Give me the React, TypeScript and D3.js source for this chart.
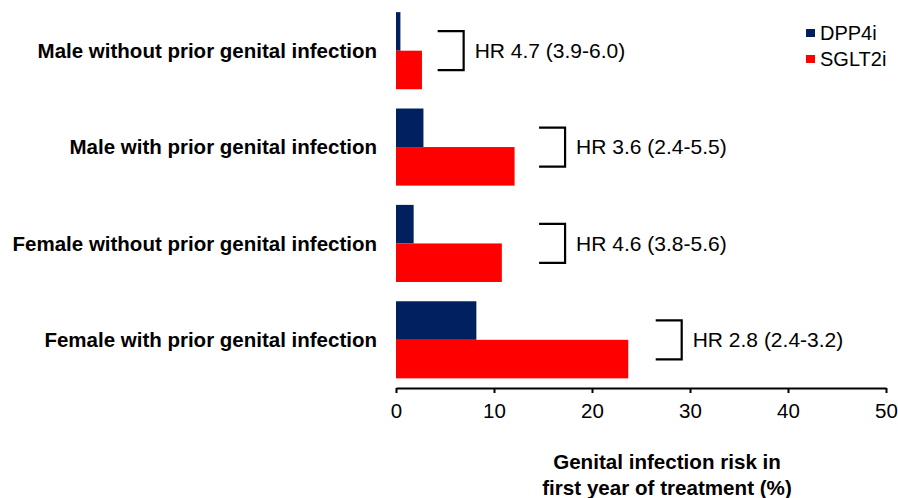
import React, { useEffect, useRef } from 'react';
import * as d3 from 'd3';

const categories = [
  'Male without prior genital infection',
  'Male with prior genital infection',
  'Female without prior genital infection',
  'Female with prior genital infection',
];
const seriesNames = ['DPP4i', 'SGLT2i'];
const dpp4i = [0.45, 2.8, 1.8, 8.2];
const sglt2i = [2.65, 12.1, 10.8, 23.7];
const hrLabels = [
  'HR 4.7 (3.9-6.0)',
  'HR 3.6 (2.4-5.5)',
  'HR 4.6 (3.8-5.6)',
  'HR 2.8 (2.4-3.2)',
];
// where each bracket sits, in % units
const bracketAt = [4.25, 14.6, 14.6, 26.5];
const xTicks = [0, 10, 20, 30, 40, 50];
const axisTitle = ['Genital infection risk in', 'first year of treatment (%)'];

const colors = ['#002060', '#ff0000'];

export default function App() {
  const svgRef = useRef<SVGSVGElement>(null);

  useEffect(() => {
    const width = 898;
    const height = 498;
    const font = 'Arial, "Liberation Sans", sans-serif';

    d3.select(svgRef.current).selectAll('*').remove();
    const svg = d3.select(svgRef.current)
      .attr('width', width)
      .attr('height', height)
      .style('font-family', font);

    const x = d3.scaleLinear().domain([0, 50]).range([396, 886]);
    const y = d3.scaleBand().domain(categories).range([2.5, 388]).paddingInner(0.2).paddingOuter(0.1);
    const ySub = d3.scaleBand().domain(seriesNames).range([0, y.bandwidth()]);

    const values = [dpp4i, sglt2i];

    // bars
    seriesNames.forEach((s, si) => {
      svg.append('g')
        .selectAll('rect')
        .data(categories)
        .enter().append('rect')
        .attr('x', x(0))
        .attr('y', c => (y(c) as number) + (ySub(s) as number))
        .attr('width', (c, i) => x(values[si][i]) - x(0))
        .attr('height', ySub.bandwidth())
        .attr('fill', colors[si]);
    });

    // category labels
    svg.append('g')
      .selectAll('text')
      .data(categories)
      .enter().append('text')
      .attr('x', 377)
      .attr('y', c => (y(c) as number) + y.bandwidth() / 2)
      .attr('dy', '0.35em')
      .attr('text-anchor', 'end')
      .style('font-size', '20.5px')
      .style('font-weight', 'bold')
      .text(c => c);

    // HR brackets
    const bw = 26;
    const hr = svg.append('g')
      .selectAll('g')
      .data(categories)
      .enter().append('g');

    hr.append('path')
      .attr('d', (c, i) => {
        const x0 = x(bracketAt[i]);
        const cy = (y(c) as number) + y.bandwidth() / 2;
        const y0 = cy - 19.5;
        const y1 = cy + 19.5;
        return `M${x0},${y0}H${x0 + bw}V${y1}H${x0}`;
      })
      .attr('fill', 'none')
      .attr('stroke', '#000')
      .attr('stroke-width', 2.2);

    hr.append('text')
      .attr('x', (c, i) => x(bracketAt[i]) + bw + 11)
      .attr('y', c => (y(c) as number) + y.bandwidth() / 2)
      .attr('dy', '0.35em')
      .style('font-size', '21px')
      .text((c, i) => hrLabels[i]);

    // x axis
    const axis = svg.append('g')
      .attr('transform', 'translate(0,388)')
      .call(d3.axisBottom(x).tickValues(xTicks).tickSize(5).tickPadding(10).tickSizeOuter(0));
    axis.select('.domain').attr('stroke', '#000').attr('stroke-width', 2);
    axis.selectAll('.tick line').attr('stroke', '#000').attr('stroke-width', 2);
    axis.selectAll('.tick text')
      .attr('fill', '#000')
      .style('font-family', font)
      .style('font-size', '20.5px');

    // axis title
    svg.append('text')
      .attr('x', 667)
      .attr('y', 469)
      .attr('text-anchor', 'middle')
      .style('font-size', '20.6px')
      .style('font-weight', 'bold')
      .selectAll('tspan')
      .data(axisTitle)
      .enter().append('tspan')
      .attr('x', 667)
      .attr('dy', (d, i) => (i === 0 ? 0 : 26))
      .text(d => d);

    // legend
    const legend = svg.append('g')
      .selectAll('g')
      .data(seriesNames)
      .enter().append('g')
      .attr('transform', (d, i) => `translate(806,${29 + i * 26})`);
    legend.append('rect')
      .attr('width', 9)
      .attr('height', 8)
      .attr('fill', (d, i) => colors[i]);
    legend.append('text')
      .attr('x', 14)
      .attr('y', 4)
      .attr('dy', '0.35em')
      .style('font-size', '20px')
      .text(d => d);
  }, []);

  return (
    <div style={{ position: 'absolute', left: 0, top: 0 }}>
      <svg ref={svgRef}></svg>
    </div>
  );
}
